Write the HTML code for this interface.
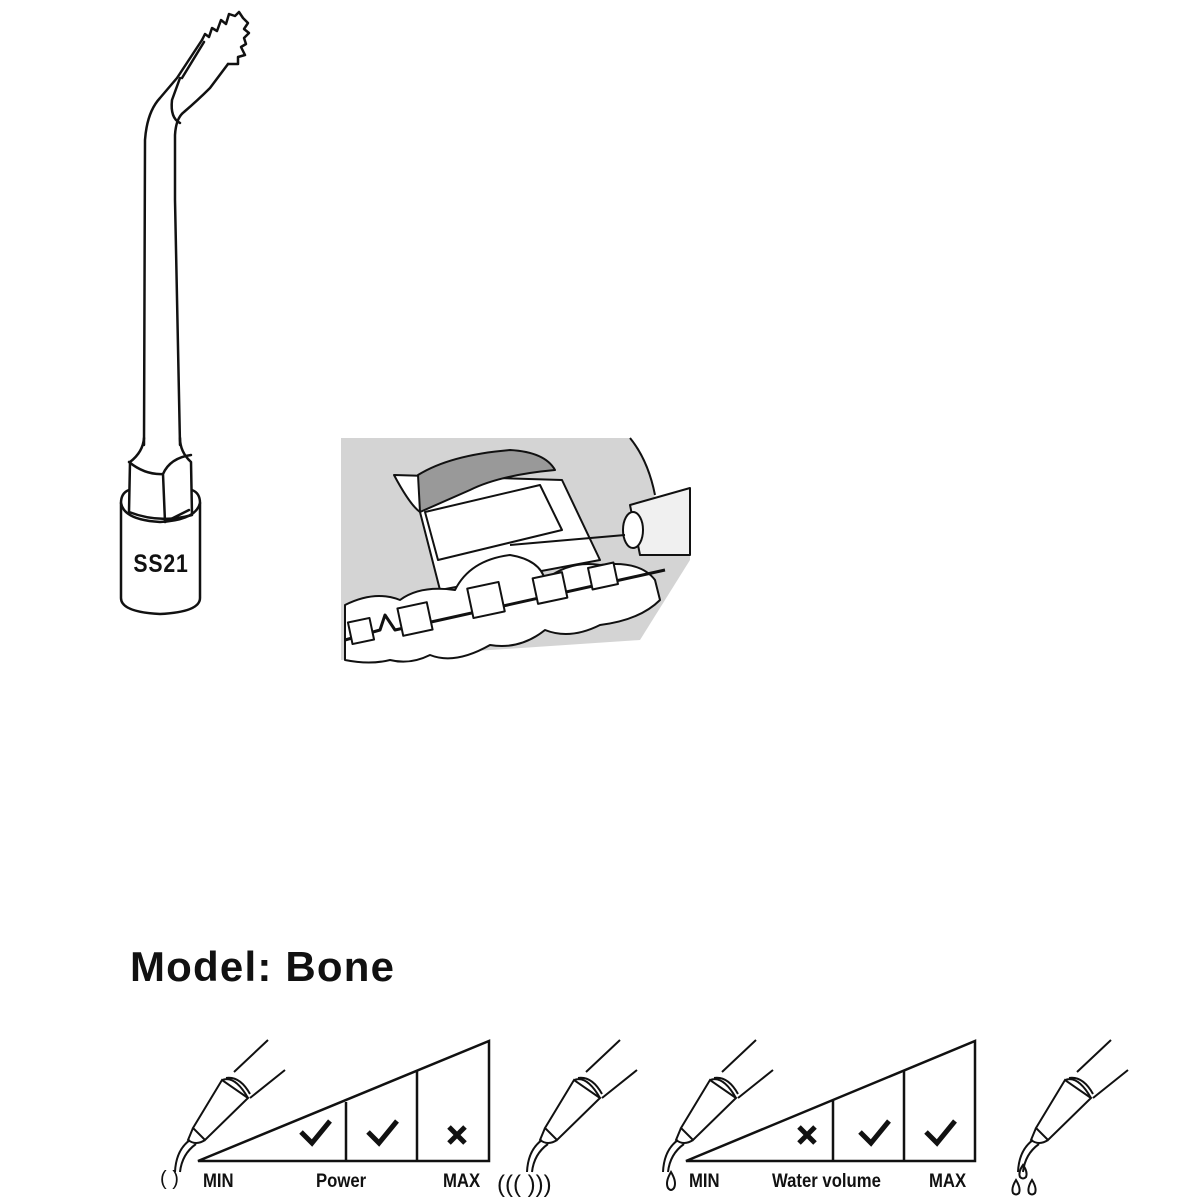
<!DOCTYPE html>
<html><head><meta charset="utf-8"><style>
html,body{margin:0;padding:0;background:#fff;}
svg{display:block;}
text{font-family:"Liberation Sans",sans-serif;}
</style></head><body>
<svg width="1200" height="1200" viewBox="0 0 1200 1200" xmlns="http://www.w3.org/2000/svg">
<g fill="none" stroke="#111" stroke-width="2.5" stroke-linejoin="round" stroke-linecap="round">
<path d="M144 445 L145 140 Q147 112 160 98 L177 78 L202 40"/>
<path d="M180 445 L175 200 L175 135 Q176 118 184 112 Q198 100 210 88 L228 64"/>
<path d="M180 78 L172 100 Q170 118 180 123"/>
<path d="M202 40 L205 34 L209 37 L212 28 L217 31 L221 20 L226 24 L229 14 L235 16 L239 12 L243 18 L248 23 L244 29 L249 33 L244 38 L246 44 L241 47 L245 55 L238 57 L238 64 L233 64 L228 64"/>
<path d="M182 78 L204 42"/>
<path d="M144 438 Q143 452 130 462 L129 512 Q160 524 192 515 L191 462 Q180 452 180 438"/>
<path d="M129 462 Q145 475 163 474 L165 522 M163 474 Q170 458 191 455"/>
<path d="M165 522 L189 510"/>
<path d="M129 490 Q121 493 121 503 L121 598 Q121 612 160 614 Q200 612 200 598 L200 503 Q200 493 192 490"/>
<path d="M121 503 Q124 520 160 522 Q196 520 200 503"/>
</g>
<text x="161" y="572" font-size="25" font-weight="bold" text-anchor="middle" fill="#111" letter-spacing="1" transform="translate(161 0) scale(0.85 1) translate(-161 0)">SS21</text>

<g stroke="#111" stroke-width="2" stroke-linejoin="round">
<path d="M341 438 L630 438 Q650 460 655 500 L690 490 L690 560 L640 640 L341 660 Z" fill="#d4d4d4" stroke="none"/>
<path d="M630 438 Q648 460 655 495" fill="none"/>
<path d="M394 475 Q410 505 420 512 L440 590 L600 560 L562 480 Z" fill="#fff"/>
<path d="M420 512 L418 475 Q450 455 510 450 Q545 452 555 470 Q500 475 470 490 Z" fill="#999"/>
<path d="M425 512 L540 485 L562 530 L438 560 Z" fill="#fff"/>
<path d="M630 505 L690 488 L690 555 L640 555 Z" fill="#f0f0f0"/>
<ellipse cx="633" cy="530" rx="10" ry="18" fill="#fff"/>
<path d="M510 545 L625 535" fill="none"/>
<path d="M345 605 Q375 590 400 600 Q420 585 455 590 Q470 560 510 555 Q540 560 545 580 Q570 560 600 565 Q640 560 655 580 L660 600 Q640 620 600 625 Q570 640 545 630 Q520 650 490 645 Q455 665 430 655 Q410 665 390 660 Q370 665 345 660 Z" fill="#fff"/>
<path d="M345 640 L380 630 L385 615 L395 630 L665 570" fill="none" stroke-width="3"/>
<g fill="#fff">
<rect x="400" y="605" width="30" height="28" transform="rotate(-12 415 619)"/>
<rect x="470" y="585" width="32" height="30" transform="rotate(-12 486 600)"/>
<rect x="535" y="575" width="30" height="26" transform="rotate(-12 550 588)"/>
<rect x="590" y="565" width="26" height="22" transform="rotate(-12 603 576)"/>
<rect x="350" y="620" width="22" height="22" transform="rotate(-12 361 631)"/>
</g>
</g>

<text x="130" y="981" font-size="42" font-weight="bold" fill="#111" letter-spacing="1.2">Model: Bone</text>

<g fill="none" stroke="#111" stroke-width="2.5">
<path d="M198 1161 L489 1041 L489 1161 Z"/>
<path d="M346 1102 L346 1161 M417 1071 L417 1161"/>
<path d="M686 1161 L975 1041 L975 1161 Z"/>
<path d="M833 1100 L833 1161 M904 1071 L904 1161"/>
<g stroke-width="5">
<path d="M301 1132 L312 1143 L330 1121"/>
<path d="M368 1132 L379 1143 L397 1121"/>
<path d="M860 1132 L871 1143 L889 1121"/>
<path d="M926 1132 L937 1143 L955 1121"/>
<path d="M449 1127 L465 1143 M465 1127 L449 1143"/>
<path d="M799 1127 L815 1143 M815 1127 L799 1143"/>
</g>
<g stroke-width="2">
<g id="hp">
<path d="M193 1128 L222 1080 L248 1098 L205 1140 Z"/>
<path d="M222 1080 Q235 1075 248 1098 M226 1078 Q240 1076 250 1094"/>
<path d="M234 1072 L268 1040 M250 1098 L285 1070"/>
<path d="M193 1128 L188 1140 Q196 1146 205 1140"/>
<path d="M190 1140 Q176 1150 175 1172 M196 1144 Q182 1154 180 1172"/>
</g>
<use href="#hp" x="352" y="0"/>
<use href="#hp" x="488" y="0"/>
<use href="#hp" x="843" y="0"/>
</g>
</g>
<g font-size="19" font-weight="bold" fill="#111">
<text x="203" y="1187" transform="translate(203 0) scale(0.88 1) translate(-203 0)">MIN</text>
<text x="316" y="1187" transform="translate(316 0) scale(0.88 1) translate(-316 0)">Power</text>
<text x="443" y="1187" transform="translate(443 0) scale(0.88 1) translate(-443 0)">MAX</text>
<text x="689" y="1187" transform="translate(689 0) scale(0.88 1) translate(-689 0)">MIN</text>
<text x="772" y="1187" transform="translate(772 0) scale(0.88 1) translate(-772 0)">Water volume</text>
<text x="929" y="1187" transform="translate(929 0) scale(0.88 1) translate(-929 0)">MAX</text>
</g>
<g font-size="20" fill="#111">
<text x="160" y="1185">( )</text>
<text x="497" y="1192" font-size="24">(((  )))</text>
</g>
<g fill="none" stroke="#111" stroke-width="2">
<path d="M671 1172 Q665 1182 668 1188 Q671 1192 674 1188 Q677 1182 671 1172Z"/>
<path d="M1023 1165 Q1018 1172 1020 1177 Q1023 1180 1026 1177 Q1028 1172 1023 1165Z"/>
<path d="M1016 1180 Q1011 1188 1013 1193 Q1016 1196 1019 1193 Q1021 1188 1016 1180Z"/>
<path d="M1032 1180 Q1027 1188 1029 1193 Q1032 1196 1035 1193 Q1037 1188 1032 1180Z"/>
</g>
</svg>
</body></html>
